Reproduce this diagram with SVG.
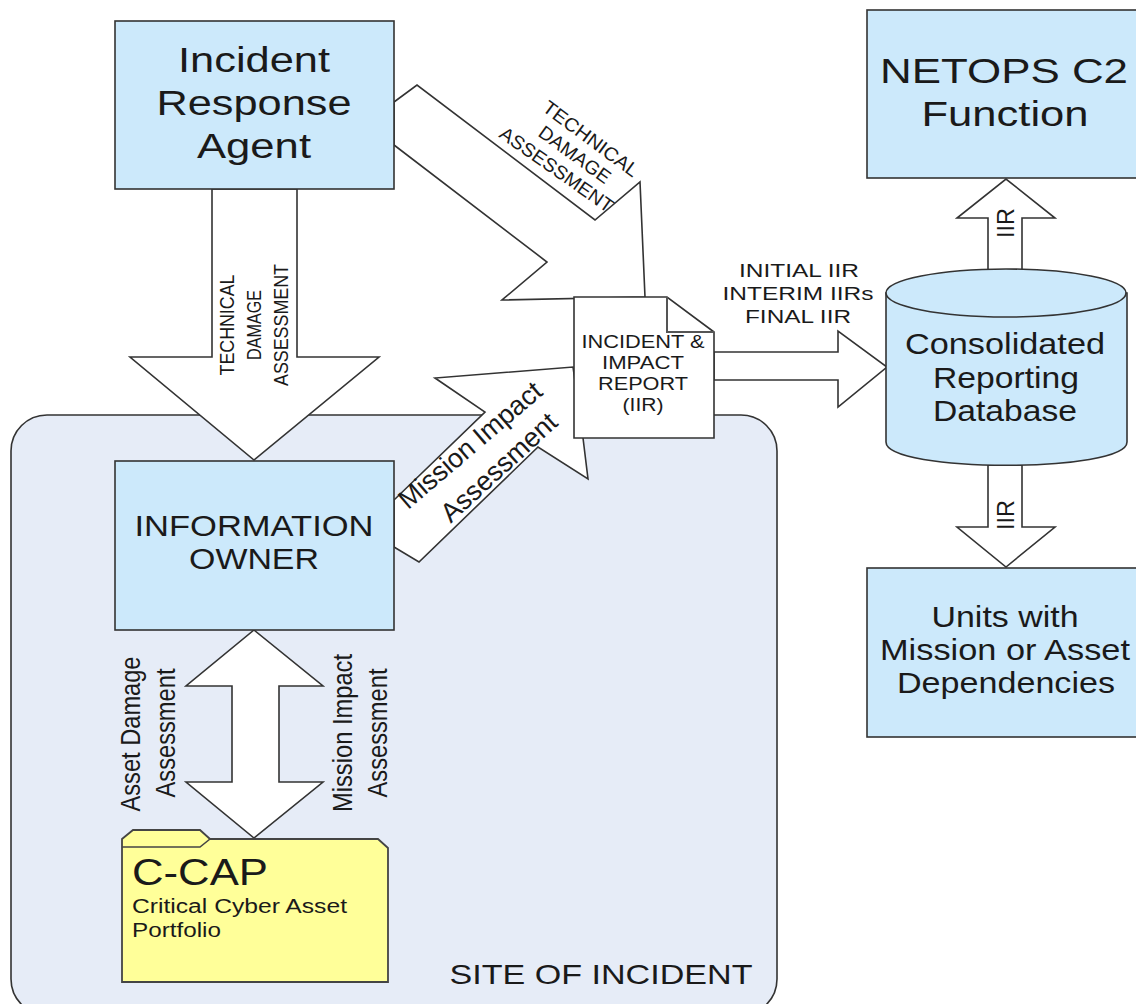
<svg xmlns="http://www.w3.org/2000/svg" width="1136" height="1004" viewBox="0 0 1136 1004">
<style>
text{font-family:"Liberation Sans",Arial,sans-serif;fill:#1a1a1a;text-anchor:middle}
.b{fill:#cce9fb;stroke:#333;stroke-width:1.6}
.a{fill:#fff;stroke:#333;stroke-width:1.6}
.l{font-size:35px}.m{font-size:29px}.s{font-size:18px}.v{font-size:21px}.r{font-size:27px}
</style>
<rect width="1136" height="1004" fill="#fff"/>
<g id="site"><rect x="11" y="415" width="766" height="600" rx="36" fill="#e6ecf7" stroke="#333" stroke-width="1.6"/>
<text x="601" y="984" style="font-size:28px" textLength="303" lengthAdjust="spacingAndGlyphs">SITE OF INCIDENT</text></g>
<g id="connectors">
<path class="a" d="M212 189V357H130L254 460L379 357H297V189Z"/>
<path class="a" d="M394 102L417 85L595 220L640 182L645 297L502 300L547 262L394 145Z"/>
<path class="a" d="M394 547L419 562L538 447L588 479L583 438L573 367L435 378L485 412L394 500Z"/>
<path class="a" d="M254 630L323 686H279V782H323L254 838L186 782H232V686H186Z"/>
<path class="a" d="M714 352H838V331L887 367L838 407V380H714Z"/>
<path class="a" d="M988 270V218H957L1006 179L1055 218H1022V270Z"/>
<path class="a" d="M988 465V527H957L1006 567L1055 527H1022V465Z"/>
</g>
<g id="agent"><rect class="b" x="115" y="21" width="279" height="168"/>
<text class="l" x="254" y="72" textLength="152" lengthAdjust="spacingAndGlyphs">Incident</text><text class="l" x="254" y="115" textLength="195" lengthAdjust="spacingAndGlyphs">Response</text><text class="l" x="254" y="158" textLength="114" lengthAdjust="spacingAndGlyphs">Agent</text></g>
<g id="netops"><rect class="b" x="867" y="10" width="279" height="168"/>
<text class="l" x="1004" y="83" textLength="248" lengthAdjust="spacingAndGlyphs">NETOPS C2</text><text class="l" x="1005" y="126" textLength="167" lengthAdjust="spacingAndGlyphs">Function</text></g>
<g id="owner"><rect class="b" x="115" y="461" width="279" height="169"/>
<text class="m" x="254" y="536" textLength="239" lengthAdjust="spacingAndGlyphs">INFORMATION</text><text class="m" x="254" y="569" textLength="130" lengthAdjust="spacingAndGlyphs">OWNER</text></g>
<g id="units"><rect class="b" x="867" y="568" width="279" height="169"/>
<text class="m" x="1005" y="627" textLength="147" lengthAdjust="spacingAndGlyphs">Units with</text><text class="m" x="1005" y="660" textLength="250" lengthAdjust="spacingAndGlyphs">Mission or Asset</text><text class="m" x="1006" y="693" textLength="218" lengthAdjust="spacingAndGlyphs">Dependencies</text></g>
<g id="database"><path class="b" d="M886 293V442C886 473 1127 473 1127 442V293Z"/><ellipse class="b" cx="1006" cy="293" rx="120" ry="24"/>
<text class="m" x="1005" y="354" textLength="200" lengthAdjust="spacingAndGlyphs">Consolidated</text><text class="m" x="1006" y="388" textLength="146" lengthAdjust="spacingAndGlyphs">Reporting</text><text class="m" x="1005" y="421" textLength="144" lengthAdjust="spacingAndGlyphs">Database</text></g>
<g id="report"><path d="M574 297H667L714 332V438H574Z" fill="#fff" stroke="#333" stroke-width="1.6"/><path d="M667 297V332H714" fill="none" stroke="#555" stroke-width="2"/>
<text class="s" x="643" y="348" textLength="123" lengthAdjust="spacingAndGlyphs">INCIDENT &amp;</text><text class="s" x="643" y="369" textLength="82" lengthAdjust="spacingAndGlyphs">IMPACT</text><text class="s" x="643" y="390" textLength="90" lengthAdjust="spacingAndGlyphs">REPORT</text><text class="s" x="643" y="411" textLength="41" lengthAdjust="spacingAndGlyphs">(IIR)</text></g>
<g id="ccap"><path d="M122 839V982H388V848L378 839H210L200 830H133Z" fill="#ffff99" stroke="#444" stroke-width="1.8"/><path d="M122 847H200L210 839" fill="none" stroke="#444" stroke-width="1.6"/>
<text x="132" y="885" style="font-size:36px;text-anchor:start" textLength="136" lengthAdjust="spacingAndGlyphs">C-CAP</text>
<text x="132" y="913" style="font-size:20px;text-anchor:start" textLength="215" lengthAdjust="spacingAndGlyphs">Critical Cyber Asset</text><text x="132" y="937" style="font-size:20px;text-anchor:start" textLength="89" lengthAdjust="spacingAndGlyphs">Portfolio</text></g>
<g id="labels">
<text class="v" transform="translate(234,325) rotate(-90)" textLength="101" lengthAdjust="spacingAndGlyphs">TECHNICAL</text>
<text class="v" transform="translate(261,325) rotate(-90)" textLength="70" lengthAdjust="spacingAndGlyphs">DAMAGE</text>
<text class="v" transform="translate(288,325) rotate(-90)" textLength="122" lengthAdjust="spacingAndGlyphs">ASSESSMENT</text>
<text class="s" style="font-size:19px" transform="translate(587,144) rotate(36.5)" textLength="114" lengthAdjust="spacingAndGlyphs">TECHNICAL</text>
<text class="s" style="font-size:19px" transform="translate(571,160) rotate(36)" textLength="84" lengthAdjust="spacingAndGlyphs">DAMAGE</text>
<text class="s" style="font-size:19px" transform="translate(553,175) rotate(35)" textLength="134" lengthAdjust="spacingAndGlyphs">ASSESSMENT</text>
<text class="r" transform="translate(476,452) rotate(-40.5)" textLength="179" lengthAdjust="spacingAndGlyphs">Mission Impact</text>
<text class="r" transform="translate(505,474) rotate(-42.5)" textLength="147" lengthAdjust="spacingAndGlyphs">Assessment</text>
<text class="r" transform="translate(140,734) rotate(-90)" textLength="155" lengthAdjust="spacingAndGlyphs">Asset Damage</text>
<text class="r" transform="translate(175,733) rotate(-90)" textLength="129" lengthAdjust="spacingAndGlyphs">Assessment</text>
<text class="r" transform="translate(352,733) rotate(-90)" textLength="158" lengthAdjust="spacingAndGlyphs">Mission Impact</text>
<text class="r" transform="translate(387,733) rotate(-90)" textLength="129" lengthAdjust="spacingAndGlyphs">Assessment</text>
<text class="s" x="799" y="277" textLength="120" lengthAdjust="spacingAndGlyphs">INITIAL IIR</text><text class="s" x="798" y="300" textLength="151" lengthAdjust="spacingAndGlyphs">INTERIM IIRs</text><text class="s" x="798" y="323" textLength="106" lengthAdjust="spacingAndGlyphs">FINAL IIR</text>
<text style="font-size:24px" transform="translate(1014,223) rotate(-90)" textLength="30" lengthAdjust="spacingAndGlyphs">IIR</text>
<text style="font-size:24px" transform="translate(1014,515) rotate(-90)" textLength="30" lengthAdjust="spacingAndGlyphs">IIR</text>
</g>
</svg>
